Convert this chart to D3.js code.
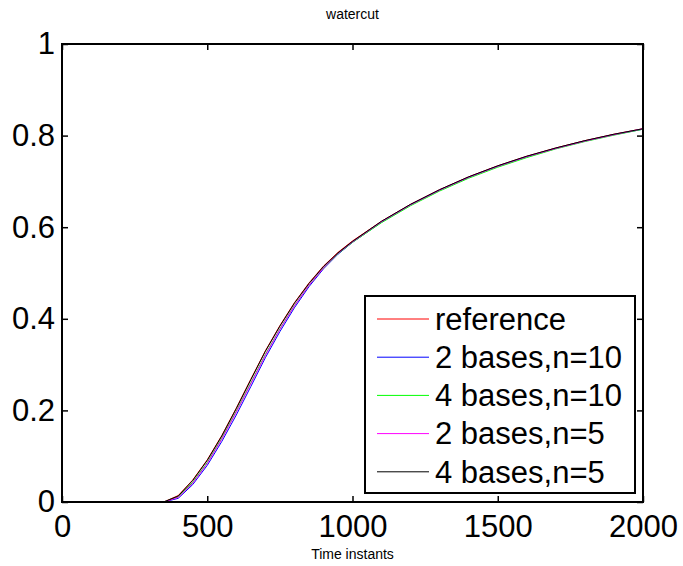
<!DOCTYPE html>
<meta charset="utf-8">
<script src="https://d3js.org/d3.v7.min.js"></script>
<style>
  body { margin: 0; background: #fff; }
  text { font-family: "Liberation Sans", Arial, sans-serif; fill: #000; }
</style>
<div id="my_dataviz"></div>
<script>

// time instants where the watercut was sampled
var time = [0, 350, 400, 450, 500, 550, 600, 650, 700, 750, 800, 850, 900, 950, 1000,
            1100, 1200, 1300, 1400, 1500, 1600, 1700, 1800, 1900, 2000]

// watercut curves
var reference = [0, 0, 0.014, 0.048, 0.092, 0.145, 0.205, 0.268, 0.330, 0.385, 0.435, 0.478, 0.515, 0.545, 0.570,
                 0.613, 0.650, 0.682, 0.710, 0.734, 0.755, 0.773, 0.789, 0.803, 0.815]
var bases2n10 = [0, 0, 0.008, 0.038, 0.080, 0.132, 0.190, 0.252, 0.315, 0.372, 0.424, 0.470, 0.509, 0.541, 0.567,
                 0.611, 0.649, 0.681, 0.709, 0.733, 0.754, 0.772, 0.788, 0.802, 0.814]
var bases4n10 = [0, 0, 0.011, 0.043, 0.086, 0.139, 0.198, 0.260, 0.322, 0.378, 0.429, 0.473, 0.511, 0.542, 0.567,
                 0.610, 0.647, 0.679, 0.707, 0.731, 0.752, 0.771, 0.787, 0.801, 0.814]
var bases2n5  = [0, 0, 0.010, 0.041, 0.084, 0.137, 0.196, 0.258, 0.320, 0.377, 0.428, 0.473, 0.511, 0.543, 0.568,
                 0.612, 0.649, 0.681, 0.709, 0.733, 0.754, 0.772, 0.788, 0.802, 0.815]
var bases4n5  = [0, 0, 0.013, 0.047, 0.091, 0.144, 0.204, 0.267, 0.329, 0.384, 0.434, 0.477, 0.514, 0.544, 0.569,
                 0.613, 0.650, 0.682, 0.710, 0.734, 0.755, 0.773, 0.789, 0.803, 0.815]

var seriesNames = ["reference", "2 bases,n=10", "4 bases,n=10", "2 bases,n=5", "4 bases,n=5"]
var seriesValues = [reference, bases2n10, bases4n10, bases2n5, bases4n5]
var seriesColors = ["#ff0000", "#0000ff", "#00ff00", "#ff00ff", "#000000"]

var xTicks = [0, 500, 1000, 1500, 2000]
var yTicks = [0, 0.2, 0.4, 0.6, 0.8, 1]

// dimensions of the page and the axes box
var width = 683,
    height = 566,
    margin = {top: 44, right: 40, bottom: 64, left: 62}

var svg = d3.select("#my_dataviz")
  .append("svg")
    .attr("width", width)
    .attr("height", height)

var x = d3.scaleLinear().domain([0, 2000]).range([margin.left, width - margin.right])
var y = d3.scaleLinear().domain([0, 1]).range([height - margin.bottom, margin.top])

// curves
var line = d3.line()
  .x(function(d) { return x(d[0]) })
  .y(function(d) { return y(d[1]) })

seriesValues.forEach(function(vals, i) {
  svg.append("path")
    .datum(time.map(function(t, j) { return [t, vals[j]] }))
    .attr("d", line)
    .attr("fill", "none")
    .attr("stroke", seriesColors[i])
    .attr("stroke-width", 1)
})

// axes, ticks pointing inward on all four sides
var tickLen = 6
var bottomAxis = d3.axisBottom(x).tickValues(xTicks).tickSize(-tickLen).tickPadding(13).tickFormat(d3.format("d"))
var topAxis = d3.axisTop(x).tickValues(xTicks).tickSize(-tickLen).tickFormat("")
var leftAxis = d3.axisLeft(y).tickValues(yTicks).tickSize(-tickLen).tickPadding(7).tickFormat(function(d) { return d3.format("")(d) })
var rightAxis = d3.axisRight(y).tickValues(yTicks).tickSize(-tickLen).tickFormat("")

function styleAxis(g) {
  g.select(".domain").remove()
  g.selectAll(".tick line").attr("stroke", "#000").attr("stroke-width", 1.5)
  g.selectAll(".tick text")
    .style("font-family", "'Liberation Sans', Arial, sans-serif")
    .style("font-size", "31px")
    .attr("fill", "#000")
}

svg.append("g").attr("transform", "translate(0," + y(0) + ")").call(bottomAxis).call(styleAxis)
svg.append("g").attr("transform", "translate(0," + y(1) + ")").call(topAxis).call(styleAxis)
svg.append("g").attr("transform", "translate(" + x(0) + ",0)").call(leftAxis).call(styleAxis)
svg.append("g").attr("transform", "translate(" + x(2000) + ",0)").call(rightAxis).call(styleAxis)

svg.append("rect")
  .attr("x", x(0)).attr("y", y(1))
  .attr("width", x(2000) - x(0)).attr("height", y(0) - y(1))
  .attr("fill", "none").attr("stroke", "#000").attr("stroke-width", 2)

// title and axis label
svg.append("text")
  .attr("x", (x(0) + x(2000)) / 2).attr("y", 19)
  .attr("text-anchor", "middle").style("font-size", "14px")
  .text("watercut")

svg.append("text")
  .attr("x", (x(0) + x(2000)) / 2).attr("y", 559)
  .attr("text-anchor", "middle").style("font-size", "14px")
  .text("Time instants")

// legend
var legend = svg.append("g").attr("transform", "translate(365,296)")
legend.append("rect")
  .attr("width", 270).attr("height", 197)
  .attr("fill", "#fff").attr("stroke", "#000").attr("stroke-width", 2)

var rows = legend.selectAll("g.row")
  .data(seriesNames)
  .enter()
  .append("g")
    .attr("class", "row")
    .attr("transform", function(d, i) { return "translate(0," + (23 + i * 38.2) + ")" })

rows.append("line")
  .attr("x1", 12).attr("x2", 64)
  .attr("stroke", function(d, i) { return seriesColors[i] })
  .attr("stroke-width", 1)

rows.append("text")
  .attr("x", 70).attr("dy", "0.35em")
  .style("font-size", "31px")
  .text(function(d) { return d })

</script>
